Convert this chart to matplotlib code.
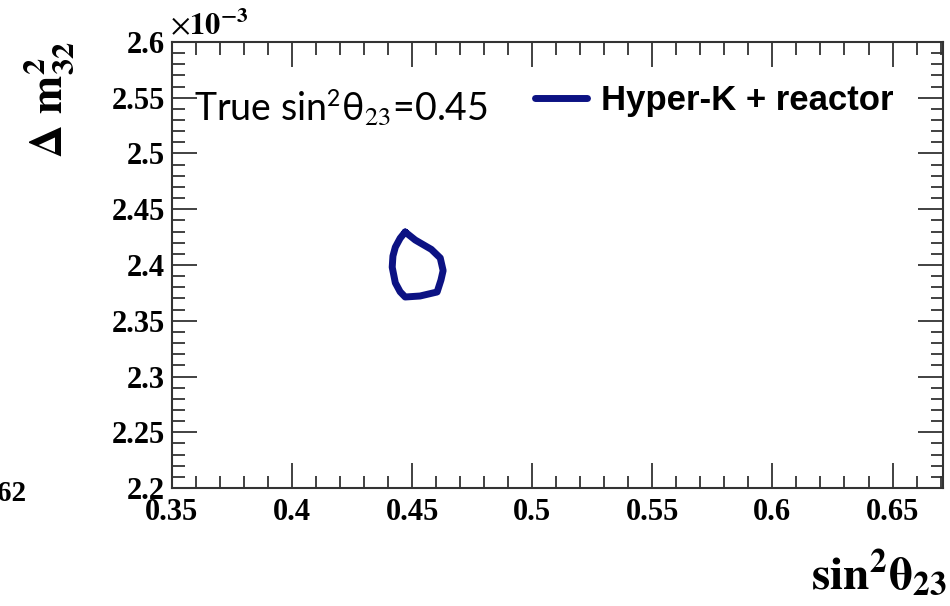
import numpy as np
import matplotlib.pyplot as plt
from matplotlib.ticker import MultipleLocator

plt.rcParams['mathtext.fontset'] = 'stix'

# contour (sin^2 theta23, dm2_32 in 1e-3 eV^2)
s23 = [0.4471, 0.4513, 0.4580, 0.4617, 0.4629, 0.4620, 0.4604, 0.4533, 0.4471,
       0.4450, 0.4430, 0.4417, 0.4420, 0.4430, 0.4450, 0.4471]
dm32 = [2.4296, 2.4224, 2.4140, 2.4063, 2.3950, 2.3865, 2.3758, 2.3722, 2.3713,
        2.3760, 2.3840, 2.3980, 2.4080, 2.4160, 2.4240, 2.4296]

xticks = [0.35, 0.4, 0.45, 0.5, 0.55, 0.6, 0.65]
yticks = [2.2, 2.25, 2.3, 2.35, 2.4, 2.45, 2.5, 2.55, 2.6]

fig = plt.figure(figsize=(9.5, 6.06), dpi=100)
ax = fig.add_axes([0.181, 0.1947, 0.8116, 0.736])

ax.plot(s23, dm32, color='#0c1283', lw=5, solid_joinstyle='round',
        solid_capstyle='round', label='Hyper-K + reactor')

ax.set_xlim(0.35, 0.671)
ax.set_ylim(2.2, 2.6)
ax.set_xticks(xticks)
ax.set_yticks(yticks)
ax.set_xticklabels([f'{v:g}' for v in xticks])
ax.set_yticklabels([f'{v:g}' for v in yticks])
ax.xaxis.set_minor_locator(MultipleLocator(0.01))
ax.yaxis.set_minor_locator(MultipleLocator(0.01))
ax.tick_params(which='both', direction='in', top=True, right=True, color='#333333')
ax.tick_params(which='major', length=18, width=1.3)
ax.tick_params(axis='x', which='major', pad=7)
ax.tick_params(axis='y', which='major', pad=5)
ax.tick_params(which='minor', length=9, width=1.3)
for lab in ax.get_xticklabels() + ax.get_yticklabels():
    lab.set_family('Liberation Serif')
    lab.set_weight('bold')
    lab.set_fontsize(22)
for sp in ax.spines.values():
    sp.set_linewidth(1.5)
    sp.set_color('#333333')

fig.text(0.179, 0.932, r'$\times\mathbf{10^{-3}}$', fontsize=22,
         ha='left', va='bottom')

ax.text(0.028, 0.856, r'True sin$^{\mathsf{2}}$θ$_{23}$=0.45', transform=ax.transAxes,
        fontsize=27, family=['Lato', 'DejaVu Sans'], ha='left', va='center')

leg = ax.legend(loc='upper left', bbox_to_anchor=(0.43, 0.975), frameon=False,
                handlelength=1.5, handletextpad=0.4,
                prop={'family': 'Liberation Sans', 'weight': 'bold', 'size': 25})

fig.text(0.052, 0.835, r'$\mathbf{\Delta\ m^2_{32}}$', rotation=90, fontsize=33,
         ha='center', va='center')
fig.text(0.996, 0.012, r'$\mathbf{sin^2\theta_{23}}$', fontsize=34,
         ha='right', va='bottom')

fig.text(0.027, 0.185, '62', fontsize=21, family='Liberation Serif', weight='bold',
         ha='right', va='center')

fig.savefig('out.png', dpi=100)
